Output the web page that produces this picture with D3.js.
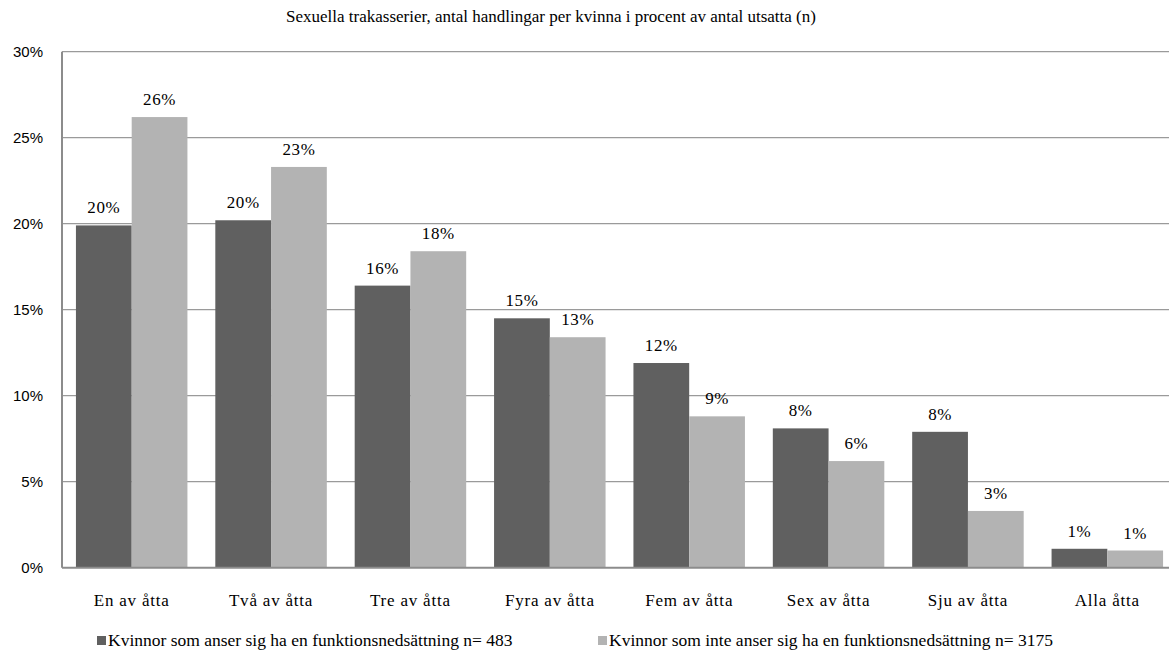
<!DOCTYPE html>
<html><head><meta charset="utf-8">
<script src="https://cdn.jsdelivr.net/npm/d3@7"></script>
<style>body{margin:0;background:#fff}svg{display:block}</style>
</head><body><svg id="c" width="1169" height="655"></svg>
<script>
const categories = ["En av åtta","Två av åtta","Tre av åtta","Fyra av åtta","Fem av åtta","Sex av åtta","Sju av åtta","Alla åtta"];
const seriesNames = ["Kvinnor som anser sig ha en funktionsnedsättning n= 483","Kvinnor som inte anser sig ha en funktionsnedsättning n= 3175"];
const withDisability = [19.9, 20.2, 16.4, 14.5, 11.9, 8.1, 7.9, 1.1];
const withoutDisability = [26.2, 23.3, 18.4, 13.4, 8.8, 6.2, 3.3, 1.0];
const yTicks = [0, 5, 10, 15, 20, 25, 30];
const title = "Sexuella trakasserier, antal handlingar per kvinna i procent av antal utsatta (n)";

const colors = ["#606060", "#b3b3b3"];
const svg = d3.select("#c");
const L = 62, R = 1177, T = 51.7, B = 567.7;
const x = d3.scaleBand().domain(categories).range([L, R]).paddingInner(0.2).paddingOuter(0.1);
const x1 = d3.scaleBand().domain([0,1]).range([0, x.bandwidth()]);
const y = d3.scaleLinear().domain([0, 30]).range([B, T]);
const serif = "'Liberation Serif','Times New Roman',serif";
const sans = "'Liberation Sans',Arial,sans-serif";

// gridlines
svg.append("g").selectAll("line").data(yTicks.filter(d => d > 0)).join("line")
  .attr("x1", L).attr("x2", 1169).attr("y1", d => y(d)).attr("y2", d => y(d))
  .attr("stroke", "#9a9a9a").attr("stroke-width", 1.3);

// y axis labels
svg.append("g").selectAll("text").data(yTicks).join("text")
  .attr("x", 43).attr("y", d => y(d)).attr("dy", "0.35em").attr("text-anchor", "end")
  .style("font-family", sans).style("font-size", "15px").attr("fill", "#000")
  .text(d => d + "%");

const series = [withDisability, withoutDisability];
const g = svg.append("g");
series.forEach((vals, si) => {
  g.selectAll(".b" + si).data(vals).join("rect")
    .attr("x", (d, i) => x(categories[i]) + x1(si))
    .attr("width", x1.bandwidth())
    .attr("y", d => y(d)).attr("height", d => B - y(d))
    .attr("fill", colors[si]);
  g.selectAll(".l" + si).data(vals).join("text")
    .attr("x", (d, i) => x(categories[i]) + x1(si) + x1.bandwidth() / 2)
    .attr("y", d => y(d) - 12)
    .attr("text-anchor", "middle").style("font-family", serif).style("font-size", "17px")
    .style("letter-spacing", "0.6px")
    .text(d => Math.round(d) + "%");
});

// axes lines
svg.append("line").attr("x1", L).attr("x2", L).attr("y1", T).attr("y2", B).attr("stroke", "#8c8c8c").attr("stroke-width", 2);
svg.append("line").attr("x1", L).attr("x2", 1169).attr("y1", B).attr("y2", B).attr("stroke", "#8c8c8c").attr("stroke-width", 2);

// category labels
svg.append("g").selectAll("text").data(categories).join("text")
  .attr("x", d => x(d) + x.bandwidth() / 2).attr("y", 606)
  .attr("text-anchor", "middle").style("font-family", serif).style("font-size", "17px")
  .style("letter-spacing", "0.8px")
  .text(d => d);

// title
svg.append("text").attr("x", 551).attr("y", 22).attr("text-anchor", "middle")
  .style("font-family", serif).style("font-size", "17px").text(title);

// legend
const legX = [97, 598];
seriesNames.forEach((n, i) => {
  svg.append("rect").attr("x", legX[i]).attr("y", 636).attr("width", 9).attr("height", 9).attr("fill", colors[i]);
  svg.append("text").attr("x", legX[i] + 11).attr("y", 646).style("font-family", serif).style("font-size", "17.5px").text(n);
});
</script></body></html>
